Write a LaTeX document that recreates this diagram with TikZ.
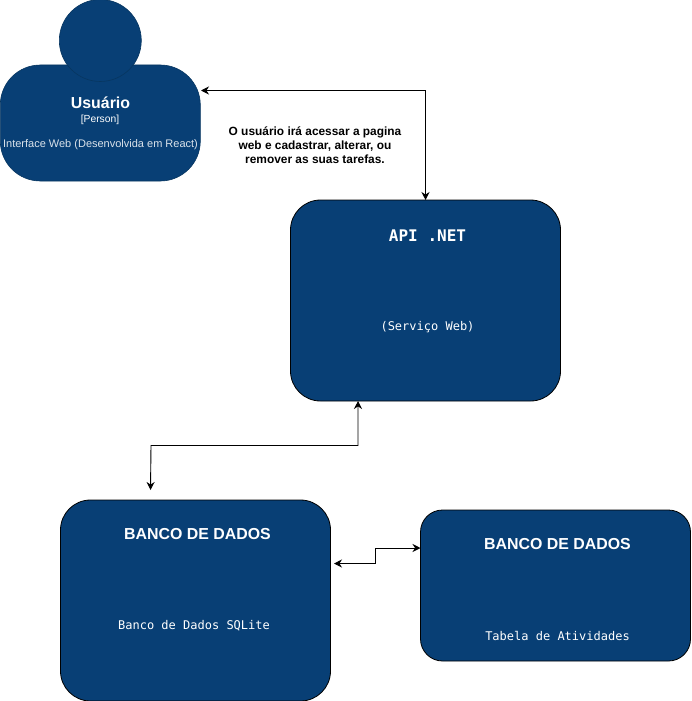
\documentclass[tikz,border=0pt]{standalone}
\usepackage{fontspec}
\setmainfont{Liberation Sans}
\newfontfamily\monof{DejaVu Sans Mono}
\usetikzlibrary{arrows.meta}
\definecolor{navy}{HTML}{083F75}
\definecolor{edgeblue}{HTML}{073660}
\tikzset{
 box/.style={draw=black,fill=navy,line width=0.8pt,minimum width=270pt,anchor=north west,inner sep=0pt,outer sep=0pt},
 person/.style={draw=edgeblue,fill=navy,line width=0.6pt,inner sep=0pt,outer sep=0pt},
 lbl/.style={text=white,inner sep=0pt,align=center},
 link/.style={line width=0.9pt,{Stealth[length=8pt,width=8pt]}-{Stealth[length=8pt,width=8pt]}},
}
\begin{document}
\begin{tikzpicture}[x=1pt,y=-1pt]
\useasboundingbox (0,0) rectangle (691,701);
% person
\node[person,anchor=north west,minimum width=200pt,minimum height=116pt,rounded corners=40pt] (body) at (0.3,65) {};
\node[person,circle,minimum size=82pt] (head) at (100.3,40.5) {};
\node[lbl,font=\bfseries\fontsize{15.9}{18}\selectfont] (ut) at (100.5,103) {Usuário};
\node[lbl,font=\fontsize{10.3}{12}\selectfont] (up) at (100,119.5) {[Person]};
\node[lbl,font=\fontsize{11}{13}\selectfont,text=white!85!navy] (ud) at (100.5,145) {Interface Web (Desenvolvida em React)};
% boxes
\node[box,minimum height=201pt,rounded corners=30pt] (api) at (290.5,200) {};
\node[box,minimum height=201pt,rounded corners=30pt] (dba) at (60.5,500) {};
\node[box,minimum height=151pt,rounded corners=22pt] (dbb) at (420.5,510) {};
% texts
\node[lbl,font=\monof\bfseries\fontsize{16}{18}\selectfont] (at) at (427.5,236) {API .NET};
\node[lbl,font=\monof\fontsize{12}{14}\selectfont] (as) at (427.5,327) {(Serviço Web)};
\node[lbl,font=\bfseries\fontsize{15.9}{18}\selectfont] (dt) at (197.5,534.5) {BANCO DE DADOS};
\node[lbl,font=\monof\fontsize{12}{14}\selectfont] (ds) at (194,626) {Banco de Dados SQLite};
\node[lbl,font=\bfseries\fontsize{15.9}{18}\selectfont] (et) at (557.5,544.5) {BANCO DE DADOS};
\node[lbl,font=\monof\fontsize{12}{14}\selectfont] (es) at (557.5,636) {Tabela de Atividades};
\node[inner sep=0pt,align=center,font=\bfseries\fontsize{11.9}{14}\selectfont] (note) at (315,145) {O usuário irá acessar a pagina\\web e cadastrar, alterar, ou\\remover as suas tarefas.};
% ports
\coordinate (pu) at (201,90.5);
\coordinate (pa) at (425.5,200);
\coordinate (pb) at (358,401);
\coordinate (pc) at (150.5,490);
\coordinate (pc1) at (358,445.5);
\coordinate (pc2) at (151,445.5);
\coordinate (pd) at (334,563.5);
\coordinate (pd1) at (375.5,563.5);
\coordinate (pd2) at (375.5,548);
\coordinate (pe) at (420.5,548);
\draw[link] (pu) -| (pa);
\draw[link] (pb) -- (pc1) -- (pc2) -- (pc);
\draw[link] (pd) -- (pd1) -- (pd2) -- (pe);
\end{tikzpicture}
\end{document}
